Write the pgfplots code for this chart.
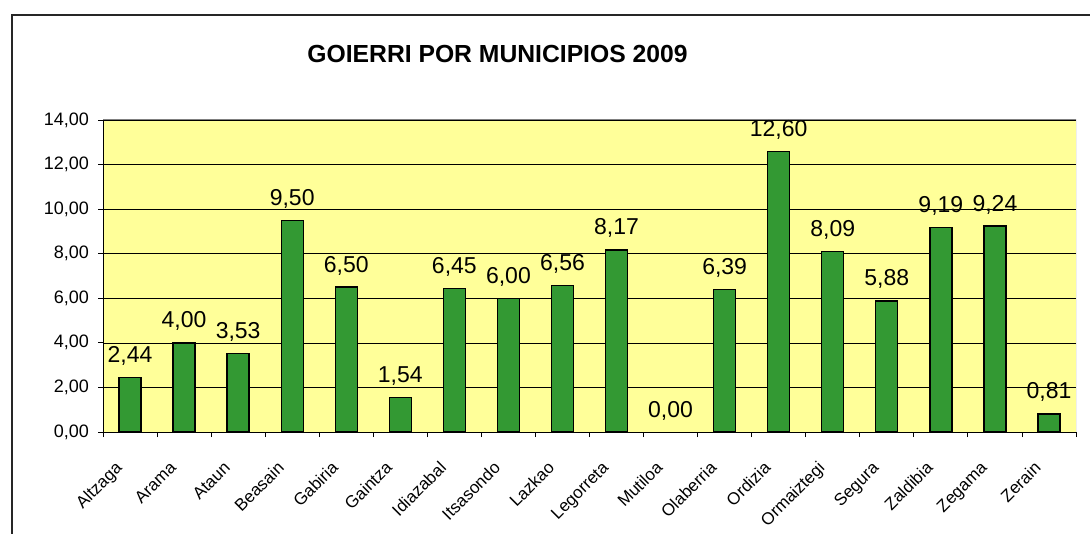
\documentclass[border=0pt]{standalone}
\usepackage{fontspec}
\setmainfont{Liberation Sans}
\usepackage{pgfplots}
\pgfplotsset{compat=1.18}
\definecolor{plotbg}{HTML}{FFFF99}
\definecolor{bargreen}{HTML}{339933}
\begin{document}
\begin{tikzpicture}[x=1pt,y=1pt]
\useasboundingbox (0,0) rectangle (1090,533);
\draw[line width=1.5pt, black!85] (12,-10) -- (12,518) -- (1100,518);
\node[font=\fontsize{24.7}{29}\selectfont\bfseries, anchor=base, inner sep=0pt] at (497.5,470) {GOIERRI POR MUNICIPIOS 2009};
\begin{axis}[
  at={(103pt,101pt)}, anchor=south west,
  width=973pt, height=312pt, scale only axis,
  xmin=-0.5, xmax=17.5, ymin=0, ymax=14,
  ytick={0,2,...,14},
  xtick={-0.5,0.5,...,17.5},
  xticklabels={},
  extra x ticks={0,...,17},
  extra x tick labels={Altzaga,Arama,Ataun,Beasain,Gabiria,Gaintza,Idiazabal,Itsasondo,Lazkao,Legorreta,Mutiloa,Olaberria,Ordizia,Ormaiztegi,Segura,Zaldibia,Zegama,Zerain},
  extra x tick style={tick style={draw=none}, grid=none},
  xtick pos=bottom, ytick pos=left,
  tick align=outside,
  major tick length=5pt,
  tick style={black, line width=0.8pt},
  ymajorgrids, grid style={black, line width=0.7pt},
  axis line style={draw=none},
  axis background/.style={fill=plotbg},
  /pgf/number format/fixed,
  /pgf/number format/fixed zerofill,
  /pgf/number format/precision=2,
  /pgf/number format/use comma,
  /pgf/number format/assume math mode=true,
  yticklabel style={font=\fontsize{18}{21}\selectfont, anchor=east, inner sep=0pt, xshift=-9pt},
  xticklabel style={font=\fontsize{17}{20}\selectfont, xshift=-7pt, yshift=-32pt, rotate=45, anchor=base east, inner sep=0pt},
  nodes near coords,
  nodes near coords style={font=\fontsize{23}{27}\selectfont, anchor=base, yshift=15pt, inner sep=0pt, black},
]
\addplot[ybar, bar shift=0pt, bar width=22pt, fill=bargreen, draw=black, line width=1.3pt] coordinates {
(0,2.44) (1,4.00) (2,3.53) (3,9.50) (4,6.50) (5,1.54) (6,6.45) (7,6.00) (8,6.56)
(9,8.17) (11,6.39) (12,12.60) (13,8.09) (14,5.88) (15,9.19) (16,9.24) (17,0.81)
};
\addplot[ybar, bar shift=0pt, bar width=22pt, fill=none, draw=none] coordinates {(10,0.00)};
\draw[gray, line width=1pt] (rel axis cs:0,1) -- (rel axis cs:1,1) -- (rel axis cs:1,0);
\draw[black, line width=1pt] (rel axis cs:0,1) -- (rel axis cs:0,0) -- (rel axis cs:1,0);
\end{axis}
\end{tikzpicture}
\end{document}
